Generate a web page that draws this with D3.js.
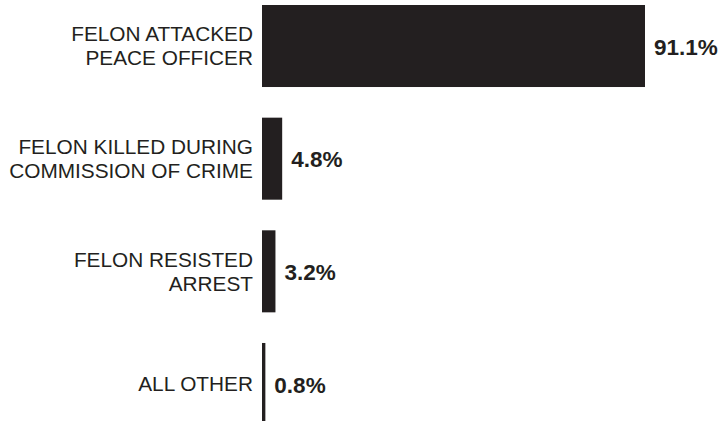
<!DOCTYPE html>
<html>
<head>
<meta charset="utf-8">
<script src="https://cdn.jsdelivr.net/npm/d3@7"></script>
<style>
  html, body { margin: 0; padding: 0; background: #fff; }
  svg { display: block; }
</style>
</head>
<body>
<svg id="chart" width="723" height="421"></svg>
<script>
const categories = [
  ["FELON ATTACKED", "PEACE OFFICER"],
  ["FELON KILLED DURING", "COMMISSION OF CRIME"],
  ["FELON RESISTED", "ARREST"],
  ["ALL OTHER"]
];
const values = [91.1, 4.8, 3.2, 0.8];
const valueLabels = ["91.1%", "4.8%", "3.2%", "0.8%"];

const svg = d3.select("#chart");
const ink = "#231f20";
const x0 = 262;

const x = d3.scaleLinear().domain([0, 91.1]).range([x0, 645]);
const y = d3.scaleBand()
  .domain(d3.range(values.length))
  .range([5, 425])
  .paddingInner(0.272)
  .paddingOuter(0);

const font = "'Liberation Sans', Arial, sans-serif";
const barW = d => Math.max(2, x(d) - x0);

const g = svg.selectAll("g.row").data(values).join("g").attr("class", "row");

g.append("rect")
  .attr("x", x0)
  .attr("y", (d, i) => y(i))
  .attr("width", barW)
  .attr("height", y.bandwidth())
  .attr("fill", ink);

g.append("text")
  .attr("x", d => x0 + barW(d) + 9)
  .attr("y", (d, i) => y(i) + y.bandwidth() / 2)
  .attr("dy", "0.38em")
  .attr("font-family", font)
  .attr("font-weight", "bold")
  .attr("font-size", 22.5)
  .attr("fill", ink)
  .text((d, i) => valueLabels[i]);

const lineH = 24;
g.append("text")
  .attr("text-anchor", "end")
  .attr("font-family", font)
  .attr("font-size", 20.8)
  .attr("fill", ink)
  .each(function(d, i) {
    const lines = categories[i];
    const cy = y(i) + y.bandwidth() / 2;
    const start = cy - (lines.length - 1) * lineH / 2;
    d3.select(this).selectAll("tspan").data(lines).join("tspan")
      .attr("x", 253)
      .attr("y", (l, j) => start + j * lineH)
      .attr("dy", "0.36em")
      .text(l => l);
  });
</script>
</body>
</html>
